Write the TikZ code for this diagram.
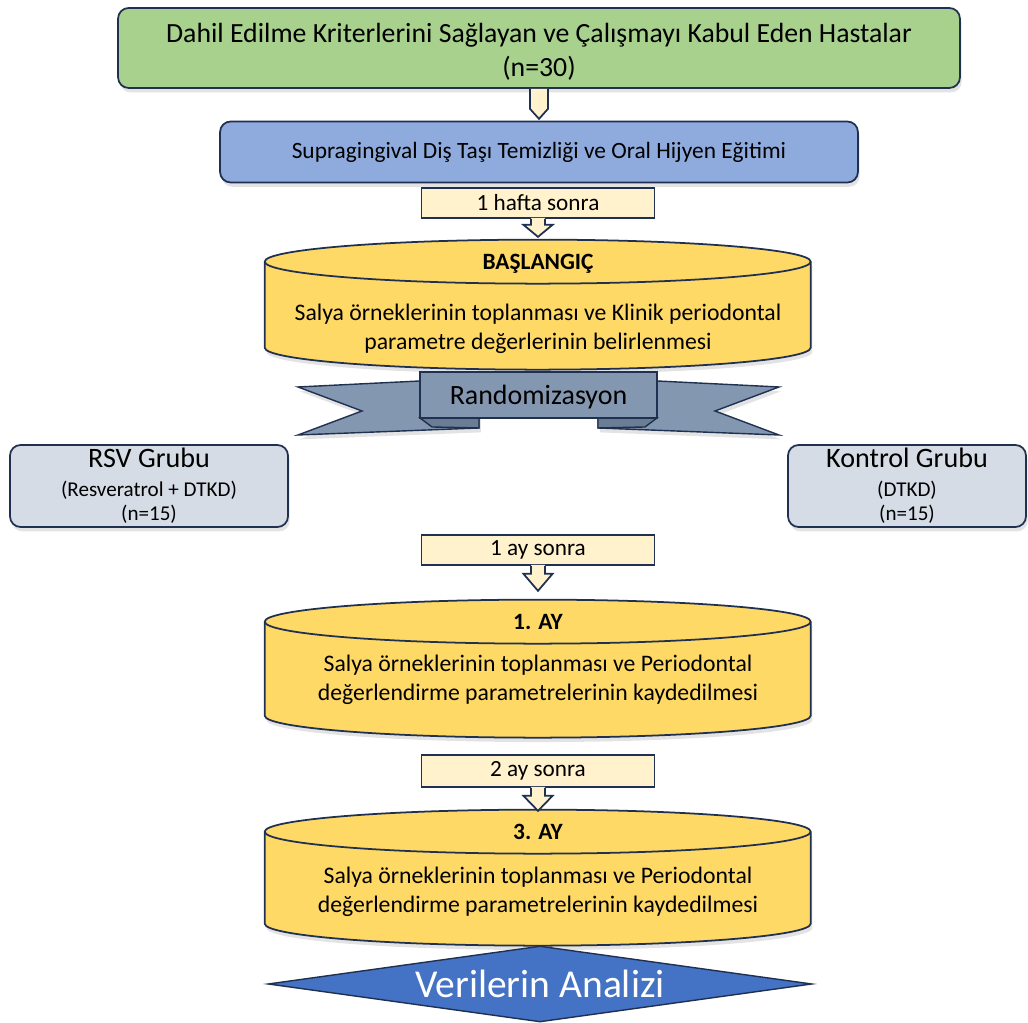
\documentclass[tikz,border=0pt]{standalone}
\usepackage{fontspec}
\setmainfont{Carlito}
\usetikzlibrary{positioning}
\usetikzlibrary{shapes.geometric}
\usetikzlibrary{shadows}
\definecolor{mgreen}{HTML}{A9D18E}
\definecolor{mblue}{HTML}{8FAADC}
\definecolor{mcream}{HTML}{FFF2CC}
\definecolor{mgold}{HTML}{FFD966}
\definecolor{mslate}{HTML}{8497B0}
\definecolor{mfold}{HTML}{6A7D95}
\definecolor{mgray}{HTML}{D6DCE5}
\definecolor{mroyal}{HTML}{4472C4}
\definecolor{mline}{HTML}{1F3050}
\tikzset{soft/.style = {drop shadow = {shadow xshift = 1pt, shadow yshift = -2.5pt, opacity = 0.22}}}
\tikzset{box/.style = {draw = mline, line width = 1pt, rounded corners = 6pt, align = center, soft}}
\tikzset{callout/.style = {draw = mline, line width = 1pt, fill = mcream, minimum width = 4.66cm, inner sep = 0pt, font = \fontsize{13.2}{15}\selectfont}}
\tikzset{arrowline/.style = {draw = mline, line width = 1pt, line join = miter}}
\tikzset{drum/.style = {fill = mgold, draw = mline, line width = 1pt, soft}}
\tikzset{drumspot/.style = {minimum width = 10.92cm, inner sep = 0}}
\tikzset{drumtitle/.style = {font = \fontsize{13.3}{15}\selectfont\bfseries}}
\tikzset{drumtext/.style = {align = center, font = \fontsize{13.5}{16.4}\selectfont}}
\tikzset{wing/.style = {fill = mslate, draw = mline, line width = 0.8pt, line join = miter}}

\begin{document}
\begin{tikzpicture}[x = 0.02cm, y = 0.02cm]
  \useasboundingbox (0, 0) rectangle (1028, 1023);

  % top of the chart
  \node [box, fill = mgreen, minimum width = 16.84cm, minimum height = 1.6cm] (patients) at (539, 975) {};
  \node [align = center, font = \fontsize{15.8}{19.3}\selectfont] (patientstext) at (539, 971) {Dahil Edilme Kriterlerini Sağlayan ve Çalışmayı Kabul Eden Hastalar\\(n=30)};
  \node [box, fill = mblue, minimum width = 12.76cm, minimum height = 1.22cm, font = \fontsize{13.3}{15}\selectfont] (cleaning) at (539, 871) {Supragingival Diş Taşı Temizliği ve Oral Hijyen Eğitimi};
  \fill [mcream] (patients.south) ++(-9, 0) -- ++(0, -20) -- ++(9, -10) -- ++(9, 10) -- ++(0, 20) -- cycle;
  \draw [arrowline] (patients.south) ++(-9, 0) -- ++(0, -20) -- ++(9, -10) -- ++(9, 10) -- ++(0, 20);

  % baseline
  \node [callout, minimum height = 0.6cm] (week) at (538, 820) {1 hafta sonra};
  \node [drumspot, minimum height = 2.6cm] (base) at (538, 718) {};
  \filldraw [drum] (base.north west) ++(0, -22) -- ++(0, -86) arc [start angle = 180, end angle = 360, x radius = 273, y radius = 22] -- ++(0, 86) arc [start angle = 0, end angle = 180, x radius = 273, y radius = 22] -- cycle;
  \draw [mline, line width = 1pt] (base.north west) ++(0, -22) arc [start angle = 180, end angle = 360, x radius = 273, y radius = 22];
  \fill [mcream] (week.south) ++(-7, 1) -- ++(0, -7) -- ++(-7.5, 0) -- ++(14.5, -12) -- ++(14.5, 12) -- ++(-7.5, 0) -- ++(0, 7) -- cycle;
  \draw [arrowline] (week.south) ++(-7, 0) -- ++(0, -6) -- ++(-7.5, 0) -- ++(14.5, -12) -- ++(14.5, 12) -- ++(-7.5, 0) -- ++(0, 6);
  \node [drumtitle] (basetitle) at (538, 759) {BAŞLANGIÇ};
  \node [drumtext] (basetext) at (538, 694) {Salya örneklerinin toplanması ve Klinik periodontal\\parametre değerlerinin belirlenmesi};

  % ribbon
  \filldraw [wing, soft] (298, 636) -- (440, 643) -- (479, 643) -- (479, 595) -- (298, 588) -- (362, 612) -- cycle;
  \filldraw [wing, soft] (779, 636) -- (637, 643) -- (598, 643) -- (598, 595) -- (779, 588) -- (715, 612) -- cycle;
  \filldraw [wing, fill = mfold] (420, 605) -- (479, 605) -- (479, 595) -- (432, 596) -- cycle;
  \filldraw [wing, fill = mfold] (657, 605) -- (598, 605) -- (598, 595) -- (645, 596) -- cycle;
  \node [wing, minimum width = 4.74cm, minimum height = 0.92cm, text depth = 0pt, font = \fontsize{15.9}{18}\selectfont] (random) at (538.5, 628) {Randomizasyon};

  % groups
  \node [box, fill = mgray, minimum width = 5.56cm, minimum height = 1.64cm, inner sep = 0pt, font = \fontsize{12}{13.6}\selectfont] (rsv) at (149, 537) {{\fontsize{16}{18}\selectfont RSV Grubu}\\[2.8pt](Resveratrol + DTKD)\\(n=15)};
  \node [box, fill = mgray, minimum width = 4.76cm, minimum height = 1.64cm, inner sep = 0pt, font = \fontsize{12}{13.6}\selectfont] (control) at (907, 537) {{\fontsize{16}{18}\selectfont Kontrol Grubu}\\[2.8pt](DTKD)\\(n=15)};

  % first month
  \node [callout, minimum height = 0.6cm] (month) at (538, 473) {1 ay sonra};
  \node [drumspot, minimum height = 2.76cm] (first) at (538, 354) {};
  \filldraw [drum] (first.north west) ++(0, -22) -- ++(0, -94) arc [start angle = 180, end angle = 360, x radius = 273, y radius = 22] -- ++(0, 94) arc [start angle = 0, end angle = 180, x radius = 273, y radius = 22] -- cycle;
  \draw [mline, line width = 1pt] (first.north west) ++(0, -22) arc [start angle = 180, end angle = 360, x radius = 273, y radius = 22];
  \fill [mcream] (month.south) ++(-7, 1) -- ++(0, -9) -- ++(-7.5, 0) -- ++(14.5, -17) -- ++(14.5, 17) -- ++(-7.5, 0) -- ++(0, 9) -- cycle;
  \draw [arrowline] (month.south) ++(-7, 0) -- ++(0, -8) -- ++(-7.5, 0) -- ++(14.5, -17) -- ++(14.5, 17) -- ++(-7.5, 0) -- ++(0, 8);
  \node [drumtitle] (firsttitle) at (538, 401) {1. AY};
  \node [drumtext] (firsttext) at (538, 343) {Salya örneklerinin toplanması ve Periodontal\\değerlendirme parametrelerinin kaydedilmesi};

  % third month
  \node [callout, minimum height = 0.64cm] (twomonth) at (538, 252) {2 ay sonra};
  \node [drumspot, minimum height = 2.72cm] (third) at (538, 145) {};
  \filldraw [drum] (third.north west) ++(0, -22) -- ++(0, -92) arc [start angle = 180, end angle = 360, x radius = 273, y radius = 22] -- ++(0, 92) arc [start angle = 0, end angle = 180, x radius = 273, y radius = 22] -- cycle;
  \draw [mline, line width = 1pt] (third.north west) ++(0, -22) arc [start angle = 180, end angle = 360, x radius = 273, y radius = 22];
  \fill [mcream] (twomonth.south) ++(-7, 1) -- ++(0, -9) -- ++(-7.5, 0) -- ++(14.5, -15) -- ++(14.5, 15) -- ++(-7.5, 0) -- ++(0, 9) -- cycle;
  \draw [arrowline] (twomonth.south) ++(-7, 0) -- ++(0, -8) -- ++(-7.5, 0) -- ++(14.5, -15) -- ++(14.5, 15) -- ++(-7.5, 0) -- ++(0, 8);
  \node [drumtitle] (thirdtitle) at (538, 191) {3. AY};
  \node [drumtext] (thirdtext) at (538, 131) {Salya örneklerinin toplanması ve Periodontal\\değerlendirme parametrelerinin kaydedilmesi};

  % analysis
  \node [diamond, aspect = 7.16, fill = mroyal, draw = mline, line width = 0.8pt, minimum width = 10.88cm, minimum height = 1.52cm, inner sep = 0pt, text = white, font = \fontsize{22.5}{26}\selectfont] (analysis) at (540, 39) {Verilerin Analizi};
\end{tikzpicture}
\end{document}
